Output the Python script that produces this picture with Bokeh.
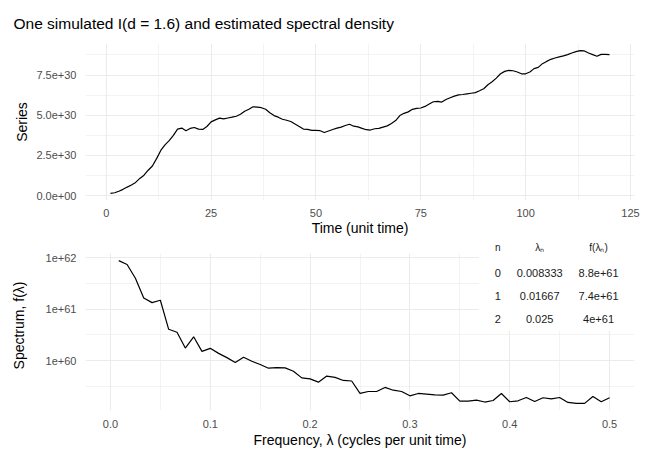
from bokeh.plotting import figure
from bokeh.layouts import column
from bokeh.models import FixedTicker, CustomJSTickFormatter, Range1d, BoxAnnotation, Label
from bokeh.embed import file_html
from bokeh.resources import INLINE
import math

# ---------------- data ----------------
title_text = "One simulated I(d = 1.6) and estimated spectral density"

time = list(range(1, 121))
series_e30 = [
    0.14, 0.18, 0.27, 0.39, 0.53, 0.66, 0.82, 1.07, 1.27, 1.58,
    1.84, 2.30, 2.81, 3.16, 3.42, 3.75, 4.14, 4.20, 4.04, 4.18,
    4.24, 4.14, 4.12, 4.30, 4.59, 4.71, 4.82, 4.77, 4.83, 4.88,
    4.94, 5.06, 5.25, 5.37, 5.53, 5.51, 5.47, 5.37, 5.16, 4.98,
    4.88, 4.75, 4.69, 4.61, 4.45, 4.30, 4.14, 4.12, 4.06, 4.06,
    4.04, 3.93, 4.02, 4.11, 4.20, 4.26, 4.36, 4.44, 4.32, 4.28,
    4.18, 4.10, 4.08, 4.16, 4.18, 4.26, 4.34, 4.49, 4.67, 4.98,
    5.12, 5.21, 5.37, 5.43, 5.45, 5.55, 5.70, 5.84, 5.86, 5.82,
    5.98, 6.09, 6.19, 6.27, 6.29, 6.33, 6.37, 6.41, 6.52, 6.65,
    6.90, 7.08, 7.31, 7.58, 7.73, 7.79, 7.77, 7.69, 7.58, 7.58,
    7.69, 7.90, 7.98, 8.21, 8.35, 8.48, 8.56, 8.63, 8.69, 8.77,
    8.87, 8.96, 9.02, 9.00, 8.87, 8.77, 8.67, 8.79, 8.79, 8.77,
]
series = [v * 1e30 for v in series_e30]

freq = [n / 120 for n in range(1, 61)]
spectrum = [
    8.8e61, 7.4e61, 4.0e61, 1.65e61, 1.34e61, 1.49e61, 4.06e60, 3.56e60, 1.75e60, 2.90e60,
    1.51e60, 1.73e60, 1.38e60, 1.14e60, 9.2e59, 1.16e60, 9.7e59, 8.4e59, 7.1e59, 7.3e59,
    7.2e59, 6.2e59, 4.6e59, 4.4e59, 3.8e59, 5.0e59, 4.7e59, 4.1e59, 4.0e59, 2.3e59,
    2.5e59, 2.5e59, 3.0e59, 2.65e59, 2.5e59, 2.06e59, 2.29e59, 2.22e59, 2.15e59, 2.12e59,
    2.36e59, 1.63e59, 1.63e59, 1.70e59, 1.56e59, 1.67e59, 2.29e59, 1.58e59, 1.65e59, 1.91e59,
    1.60e59, 1.89e59, 1.80e59, 1.91e59, 1.53e59, 1.47e59, 1.47e59, 2.0e59, 1.58e59, 1.89e59,
]

top_x_ticks = [0, 25, 50, 75, 100, 125]
top_x_labels = ["0", "25", "50", "75", "100", "125"]
top_x_minor = [12.5, 37.5, 62.5, 87.5, 112.5]
top_y_ticks = [0.0, 2.5e30, 5.0e30, 7.5e30]
top_y_labels = ["0.0e+00", "2.5e+30", "5.0e+30", "7.5e+30"]
top_y_minor = [1.25e30, 3.75e30, 6.25e30, 8.75e30]

bot_x_ticks = [0.0, 0.1, 0.2, 0.3, 0.4, 0.5]
bot_x_labels = ["0.0", "0.1", "0.2", "0.3", "0.4", "0.5"]
bot_x_minor = [0.05, 0.15, 0.25, 0.35, 0.45]
bot_y_ticks = [1e60, 1e61, 1e62]
bot_y_labels = ["1e+60", "1e+61", "1e+62"]
bot_y_minor = [10 ** 59.5, 10 ** 60.5, 10 ** 61.5]

table_header = ["n", "λₙ", "f(λₙ)"]
table_rows = 3

# ---------------- style ----------------
FONT = "Liberation Sans"
GRID = "#ebebeb"

fmt_code = """
for (let i = 0; i < tvals.length; i++) {
  const t = tvals[i];
  if (Math.abs(t - tick) <= 1e-6 * Math.max(1, Math.abs(t))) { return tlabels[i]; }
}
return '';
"""


def style(p):
    p.background_fill_color = "white"
    p.border_fill_color = "white"
    p.outline_line_color = None
    for ax in p.axis:
        ax.axis_line_color = None
        ax.major_tick_line_color = None
        ax.minor_tick_line_color = None
        ax.major_label_text_font = FONT
        ax.major_label_text_font_size = "11px"
        ax.major_label_text_color = "#4d4d4d"
        ax.axis_label_text_font = FONT
        ax.axis_label_text_font_size = "14px"
        ax.axis_label_text_font_style = "normal"
        ax.axis_label_text_color = "#000000"
        ax.major_label_standoff = 3
        ax.axis_label_standoff = 3
    for g in p.grid:
        g.grid_line_color = GRID
        g.grid_line_width = 1.1
        g.minor_grid_line_color = GRID
        g.minor_grid_line_width = 0.6


def set_ticks(axis, ticks, labels, minor):
    axis.ticker = FixedTicker(ticks=ticks, minor_ticks=minor)
    axis.formatter = CustomJSTickFormatter(args=dict(tvals=ticks, tlabels=labels), code=fmt_code)


H1 = 238
H2 = 451 - H1

# ---------------- top panel ----------------
ymin, ymax = min(series), max(series)
ypad = 0.05 * (ymax - ymin)
xpad = 0.05 * (max(time) - min(time))
p1 = figure(width=657, height=H1,
            x_range=Range1d(min(time) - xpad, max(time) + xpad),
            y_range=Range1d(ymin - ypad, ymax + ypad),
            output_backend="svg", toolbar_location=None,
            min_border_left=85, min_border_right=23, min_border_top=42, min_border_bottom=30)
p1.line(time, series, line_color="black", line_width=1.2)
p1.xaxis.axis_label = "Time (unit time)"
p1.yaxis.axis_label = "Series"
style(p1)
p1.xaxis[0].major_label_standoff = 2
p1.xaxis[0].axis_label_standoff = 0
set_ticks(p1.xaxis[0], top_x_ticks, top_x_labels, top_x_minor)
set_ticks(p1.yaxis[0], top_y_ticks, top_y_labels, top_y_minor)
p1.title.text = title_text
p1.title.text_font = FONT
p1.title.text_font_size = "15.5px"
p1.title.text_font_style = "normal"
p1.title.text_color = "#000000"
p1.title.align = "left"
p1.title.offset = -72
p1.title.standoff = 24

# ---------------- bottom panel ----------------
B_TOP, B_BOTTOM = 2, 41
frame_h = H2 - B_TOP - B_BOTTOM
panel_h = 157.0  # visible panel height (the rest on top holds the table header)
lmin, lmax = math.log10(min(spectrum)), math.log10(max(spectrum))
lpad = 0.05 * (lmax - lmin)
lo, hi = lmin - lpad, lmax + lpad
top_log = lo + (hi - lo) * frame_h / panel_h
p2 = figure(width=657, height=H2,
            x_range=Range1d(-0.025, 0.525),
            y_range=Range1d(10 ** lo, 10 ** top_log),
            y_axis_type="log",
            output_backend="svg", toolbar_location=None,
            min_border_left=85, min_border_right=22, min_border_top=B_TOP, min_border_bottom=B_BOTTOM)
p2.line(freq, spectrum, line_color="black", line_width=1.2)
p2.xaxis.axis_label = "Frequency, λ (cycles per unit time)"
p2.yaxis.axis_label = "Spectrum, f(λ)"
style(p2)
p2.xaxis[0].axis_label_standoff = 1
set_ticks(p2.xaxis[0], bot_x_ticks, bot_x_labels, bot_x_minor)
set_ticks(p2.yaxis[0], bot_y_ticks, bot_y_labels, bot_y_minor)
p2.yaxis[0].axis_label_standoff = 16

# blank strip above the panel, and white background of the table
p2.add_layout(BoxAnnotation(bottom=10 ** hi, fill_color="white", fill_alpha=1.0, line_color=None))
p2.add_layout(BoxAnnotation(left=0.369, bottom=3.8e60, fill_color="white", fill_alpha=1.0,
                            line_color=None, level="underlay"))
col_x = [0.388, 0.430, 0.489]
row_y = [10 ** 62.2, 10 ** 61.695, 10 ** 61.249, 10 ** 60.81]
for j, h in enumerate(table_header):
    p2.add_layout(Label(x=col_x[j], y=row_y[0], text=h, text_align="center", text_baseline="middle",
                        text_font=FONT, text_font_size="10px", text_color="#1a1a1a"))
for i in range(table_rows):
    cells = [str(i), f"{freq[i]:.4g}", f"{spectrum[i]:.2g}"]
    for j, c in enumerate(cells):
        p2.add_layout(Label(x=col_x[j], y=row_y[i + 1], text=c, text_align="center", text_baseline="middle",
                            text_font=FONT, text_font_size="11px", text_color="#1a1a1a"))

layout = column(p1, p2, spacing=0)
open("out.html", "w").write(file_html(layout, INLINE))
